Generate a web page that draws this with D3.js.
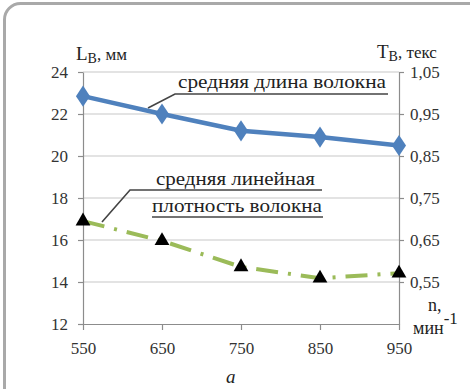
<!DOCTYPE html>
<html>
<head>
<meta charset="utf-8">
<script src="https://cdn.jsdelivr.net/npm/d3@7"></script>
<style>
    body { margin: 0; background: #fff; }
    svg, svg text { font-family: "Liberation Serif", "Times New Roman", "DejaVu Serif", serif !important; }
    svg text { fill: #222; }
    .grid line { stroke: #c8c8c8; stroke-width: 1.2; }
    .axis path, .axis line { stroke: #8c8c8c; stroke-width: 1.2; }
    .axis text { font-size: 17px; fill: #333; }
</style>
</head>
<body>
<div id="chart"></div>
<script>
// rotation speed, min^-1
var speeds = [550, 650, 750, 850, 950];
// average fibre length, mm (left axis)
var fibreLength = [22.85, 22.0, 21.2, 20.9, 20.5];
// average linear density, tex (right axis)
var fibreDensity = [0.695, 0.648, 0.586, 0.559, 0.571];

var leftTicks = [12, 14, 16, 18, 20, 22, 24];
var rightTicks = [0.55, 0.65, 0.75, 0.85, 0.95, 1.05];

var W = 470, H = 389;
var margin = { top: 72, left: 83 };
var width = 316, height = 252;
var serif = "'Liberation Serif', 'Times New Roman', serif";

var svg = d3.select("#chart").append("svg")
    .attr("width", W)
    .attr("height", H)
    .attr("font-family", serif);

// grey frame with rounded corner
svg.append("rect")
    .attr("x", 4.5).attr("y", 3.5)
    .attr("width", W + 30).attr("height", H + 30)
    .attr("rx", 16)
    .attr("fill", "#fff")
    .attr("stroke", "#a9a9a9")
    .attr("stroke-width", 3);

var g = svg.append("g")
    .attr("transform", "translate(" + margin.left + "," + margin.top + ")");

var x = d3.scaleLinear().domain([550, 950]).range([0, width]);
var yL = d3.scaleLinear().domain([12, 24]).range([height, 0]);
var yR = d3.scaleLinear().domain([0.45, 1.05]).range([height, 0]);

var comma = function(d) { return d3.format(".2f")(d).replace(".", ","); };

// horizontal grid
g.append("g").attr("class", "grid")
    .selectAll("line")
    .data(leftTicks.slice(1))
    .enter().append("line")
    .attr("x1", 0).attr("x2", width)
    .attr("y1", function(d) { return yL(d); })
    .attr("y2", function(d) { return yL(d); });

g.append("g").attr("class", "axis")
    .call(d3.axisLeft(yL).tickValues(leftTicks).tickSize(5).tickPadding(10).tickSizeOuter(0))
    .attr("font-family", serif);

g.append("g").attr("class", "axis")
    .attr("transform", "translate(" + width + ",0)")
    .call(d3.axisRight(yR).tickValues(rightTicks).tickSize(5).tickPadding(6).tickFormat(comma).tickSizeOuter(0))
    .attr("font-family", serif);

g.append("g").attr("class", "axis")
    .attr("transform", "translate(0," + height + ")")
    .call(d3.axisBottom(x).tickValues(speeds).tickSize(6).tickPadding(12).tickFormat(d3.format("d")).tickSizeOuter(0))
    .attr("font-family", serif);

// leader lines + underlines of the labels
var lead = d3.line();
g.append("path")
    .attr("d", lead([[148 - 83, 108 - 72], [175 - 83, 94 - 72], [388 - 83, 94 - 72]]))
    .attr("fill", "none").attr("stroke", "#444").attr("stroke-width", 1.6);
g.append("path")
    .attr("d", lead([[102 - 83, 222 - 72], [130 - 83, 190 - 72], [322 - 83, 190 - 72]]))
    .attr("fill", "none").attr("stroke", "#444").attr("stroke-width", 1.6);
g.append("line")
    .attr("x1", 152 - 83).attr("x2", 323 - 83)
    .attr("y1", 217 - 72).attr("y2", 217 - 72)
    .attr("stroke", "#444").attr("stroke-width", 1.6);

// green series: linear density
var lineR = d3.line()
    .x(function(d, i) { return x(speeds[i]); })
    .y(function(d) { return yR(d); });

g.append("path")
    .datum(fibreDensity)
    .attr("d", lineR)
    .attr("fill", "none")
    .attr("stroke", "#9bbb59")
    .attr("stroke-width", 4)
    .attr("stroke-dasharray", "22,10,3,10");

g.selectAll(".tri")
    .data(fibreDensity)
    .enter().append("path")
    .attr("class", "tri")
    .attr("d", d3.symbol().type(d3.symbolTriangle).size(95))
    .attr("transform", function(d, i) { return "translate(" + x(speeds[i]) + "," + yR(d) + ")"; })
    .attr("fill", "#000");

// blue series: fibre length
var lineL = d3.line()
    .x(function(d, i) { return x(speeds[i]); })
    .y(function(d) { return yL(d); });

g.append("path")
    .datum(fibreLength)
    .attr("d", lineL)
    .attr("fill", "none")
    .attr("stroke", "#4f81bd")
    .attr("stroke-width", 4.5);

g.selectAll(".dia")
    .data(fibreLength)
    .enter().append("path")
    .attr("class", "dia")
    .attr("d", d3.symbol().type(d3.symbolDiamond).size(130))
    .attr("transform", function(d, i) { return "translate(" + x(speeds[i]) + "," + yL(d) + ") scale(1.15,1)"; })
    .attr("fill", "#4f81bd");

// annotation texts
function note(txt, px, py, len) {
    svg.append("text").attr("x", px).attr("y", py).attr("font-size", 19)
        .attr("textLength", len).attr("lengthAdjust", "spacingAndGlyphs")
        .text(txt);
}
note("средняя длина волокна", 178, 88, 208);
note("средняя линейная", 156, 185, 159);
note("плотность волокна", 152, 212, 170);

// axis titles
var tl = svg.append("text").attr("x", 76).attr("y", 60).attr("font-size", 19);
tl.append("tspan").text("L");
tl.append("tspan").attr("font-size", 14).attr("dy", 3).text("В");
tl.append("tspan").attr("dy", -3).attr("font-size", 17).text(", мм");

var tr = svg.append("text").attr("x", 377).attr("y", 58).attr("font-size", 19);
tr.append("tspan").text("T");
tr.append("tspan").attr("font-size", 14).attr("dy", 3).text("В");
tr.append("tspan").attr("dy", -3).attr("font-size", 17).text(", текс");

svg.append("text").attr("x", 428).attr("y", 311).attr("font-size", 18).text("n,");
var tn = svg.append("text").attr("x", 413).attr("y", 334).attr("font-size", 18);
tn.append("tspan").text("мин");
tn.append("tspan").attr("dy", -10).attr("font-size", 17).text("-1");

svg.append("text").attr("x", 226).attr("y", 383).attr("font-size", 19)
    .attr("font-style", "italic").text("а");
</script>
</body>
</html>
